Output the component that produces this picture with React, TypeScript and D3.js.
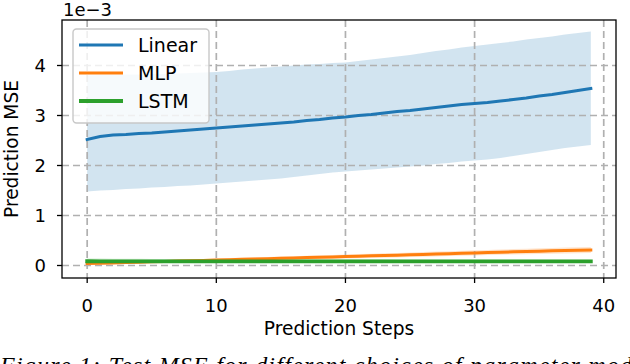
import React from "react";
import * as d3 from "d3";

const steps: number[] = Array.from({ length: 40 }, (_, i) => i);

const linearMean = [2.52, 2.58, 2.61, 2.62, 2.64, 2.65, 2.67, 2.69, 2.71, 2.73, 2.75, 2.77, 2.79, 2.81, 2.83, 2.85, 2.87, 2.9, 2.92, 2.95, 2.97, 3.0, 3.02, 3.05, 3.08, 3.1, 3.13, 3.16, 3.19, 3.22, 3.24, 3.26, 3.29, 3.32, 3.35, 3.39, 3.42, 3.46, 3.5, 3.54];
const linearUpper = [3.8, 3.81, 3.81, 3.82, 3.82, 3.83, 3.83, 3.84, 3.85, 3.86, 3.87, 3.89, 3.92, 3.94, 3.96, 3.98, 4.0, 4.02, 4.03, 4.05, 4.06, 4.09, 4.12, 4.15, 4.18, 4.21, 4.25, 4.29, 4.32, 4.36, 4.39, 4.42, 4.45, 4.48, 4.52, 4.55, 4.58, 4.62, 4.65, 4.68];
const linearLower = [1.48, 1.5, 1.51, 1.53, 1.54, 1.56, 1.57, 1.59, 1.6, 1.62, 1.64, 1.66, 1.68, 1.7, 1.72, 1.74, 1.77, 1.8, 1.83, 1.86, 1.88, 1.9, 1.92, 1.94, 1.96, 1.98, 2.0, 2.03, 2.05, 2.08, 2.1, 2.12, 2.15, 2.19, 2.23, 2.27, 2.31, 2.35, 2.38, 2.41];

const mlpMean = [0.04, 0.045, 0.05, 0.06, 0.067, 0.075, 0.08, 0.09, 0.095, 0.10, 0.11, 0.117, 0.123, 0.13, 0.137, 0.145, 0.15, 0.158, 0.165, 0.172, 0.18, 0.187, 0.194, 0.2, 0.207, 0.215, 0.222, 0.23, 0.237, 0.245, 0.252, 0.26, 0.267, 0.274, 0.28, 0.287, 0.294, 0.3, 0.305, 0.31];
const mlpUpper = [0.06, 0.066, 0.072, 0.083, 0.091, 0.1, 0.106, 0.117, 0.123, 0.13, 0.141, 0.149, 0.156, 0.164, 0.172, 0.181, 0.187, 0.196, 0.204, 0.212, 0.221, 0.229, 0.237, 0.244, 0.252, 0.261, 0.269, 0.278, 0.286, 0.295, 0.303, 0.312, 0.32, 0.328, 0.335, 0.343, 0.351, 0.358, 0.364, 0.37];
const mlpLower = [0.02, 0.024, 0.028, 0.037, 0.043, 0.05, 0.054, 0.063, 0.067, 0.07, 0.079, 0.085, 0.09, 0.096, 0.102, 0.109, 0.113, 0.12, 0.126, 0.132, 0.139, 0.145, 0.151, 0.156, 0.162, 0.169, 0.175, 0.182, 0.188, 0.195, 0.201, 0.208, 0.214, 0.22, 0.225, 0.231, 0.237, 0.242, 0.246, 0.25];

const lstmMean = [0.085, 0.084, 0.084, 0.083, 0.083, 0.083, 0.083, 0.083, 0.083, 0.083, 0.083, 0.083, 0.083, 0.083, 0.083, 0.083, 0.083, 0.083, 0.083, 0.083, 0.083, 0.083, 0.083, 0.083, 0.083, 0.083, 0.083, 0.083, 0.083, 0.083, 0.083, 0.083, 0.083, 0.083, 0.083, 0.083, 0.083, 0.084, 0.084, 0.084];
const lstmUpper = [0.14, 0.138, 0.136, 0.134, 0.133, 0.132, 0.131, 0.13, 0.129, 0.128, 0.127, 0.126, 0.125, 0.124, 0.123, 0.122, 0.121, 0.12, 0.12, 0.119, 0.119, 0.118, 0.118, 0.118, 0.117, 0.117, 0.117, 0.116, 0.116, 0.116, 0.116, 0.116, 0.116, 0.116, 0.116, 0.116, 0.116, 0.116, 0.116, 0.116];
const lstmLower = [0.06, 0.06, 0.061, 0.061, 0.062, 0.062, 0.062, 0.063, 0.063, 0.063, 0.063, 0.064, 0.064, 0.064, 0.064, 0.064, 0.065, 0.065, 0.065, 0.065, 0.065, 0.065, 0.065, 0.065, 0.065, 0.065, 0.065, 0.065, 0.065, 0.065, 0.065, 0.065, 0.065, 0.065, 0.065, 0.065, 0.065, 0.066, 0.066, 0.066];

const xTicks = [0, 10, 20, 30, 40];
const yTicks = [0, 1, 2, 3, 4];
const seriesNames = ["Linear", "MLP", "LSTM"];
const seriesColors = ["#1f77b4", "#ff7f0e", "#2ca02c"];
const seriesWidths = [3, 3, 3.8];

const FONT = "DejaVu Sans, sans-serif";

export default function App() {
  const left = 62, right = 616, top = 20, bottom = 278;
  const x = d3.scaleLinear().domain([-1.95, 40.95]).range([left, right]);
  const y = d3.scaleLinear().domain([-0.25, 4.91]).range([bottom, top]);

  const means = [linearMean, mlpMean, lstmMean];
  const uppers = [linearUpper, mlpUpper, lstmUpper];
  const lowers = [linearLower, mlpLower, lstmLower];

  const line = (vals: number[]) =>
    d3.line<number>().x((_, i) => x(steps[i])).y((v) => y(v))(vals) || "";
  const area = (lo: number[], hi: number[]) =>
    d3
      .area<number>()
      .x((_, i) => x(steps[i]))
      .y0((_, i) => y(lo[i]))
      .y1((_, i) => y(hi[i]))(steps) || "";

  const grid = "#b0b0b0";

  return (
    <svg width={630} height={364} style={{ position: "absolute", left: 0, top: 0, background: "#fff" }}>
      <rect x={0} y={0} width={630} height={364} fill="#fff" />
      {seriesNames.map((n, k) => (
        <path key={"a" + n} d={area(lowers[k], uppers[k])} fill={seriesColors[k]} fillOpacity={0.2} stroke="none" />
      ))}
      {xTicks.map((t) => (
        <line key={"gx" + t} x1={x(t)} x2={x(t)} y1={top} y2={bottom} stroke={grid} strokeWidth={1.7} strokeDasharray="7,4" />
      ))}
      {yTicks.map((t) => (
        <line key={"gy" + t} x1={left} x2={right} y1={y(t)} y2={y(t)} stroke={grid} strokeWidth={1.7} strokeDasharray="7,4" />
      ))}
      {seriesNames.map((n, k) => (
        <path key={"l" + n} d={line(means[k])} fill="none" stroke={seriesColors[k]} strokeWidth={seriesWidths[k]} strokeLinecap="square" />
      ))}
      <rect x={left} y={top} width={right - left} height={bottom - top} fill="none" stroke="#000" strokeWidth={1.3} />
      {xTicks.map((t) => (
        <g key={"tx" + t}>
          <line x1={x(t)} x2={x(t)} y1={bottom} y2={bottom + 5} stroke="#000" strokeWidth={1.3} />
          <text x={x(t)} y={311.5} textAnchor="middle" fontFamily={FONT} fontSize={18} fill="#000">{t}</text>
        </g>
      ))}
      {yTicks.map((t) => (
        <g key={"ty" + t}>
          <line x1={left - 5} x2={left} y1={y(t)} y2={y(t)} stroke="#000" strokeWidth={1.3} />
          <text x={46} y={y(t) + 6.5} textAnchor="end" fontFamily={FONT} fontSize={18} fill="#000">{t}</text>
        </g>
      ))}
      <text x={63} y={16} fontFamily={FONT} fontSize={18} fill="#000">1e−3</text>
      <text x={(left + right) / 2} y={335} textAnchor="middle" fontFamily={FONT} fontSize={18.6} fill="#000">Prediction Steps</text>
      <text transform={`translate(18,${(top + bottom) / 2}) rotate(-90)`} textAnchor="middle" fontFamily={FONT} fontSize={18.6} fill="#000">Prediction MSE</text>
      <rect x={73} y={29} width={136} height={94} rx={3.5} fill="#fff" fillOpacity={0.8} stroke="#c8c8c8" strokeWidth={1.4} />
      {seriesNames.map((n, k) => (
        <g key={"lg" + n}>
          <line x1={79} x2={123} y1={45 + k * 28} y2={45 + k * 28} stroke={seriesColors[k]} strokeWidth={seriesWidths[k]} />
          <text x={138} y={51.8 + k * 28} fontFamily={FONT} fontSize={19} fill="#000">{n}</text>
        </g>
      ))}
      <text x={0} y={373} fontFamily="Liberation Serif, serif" fontStyle="italic" fontSize={24} fill="#000" textLength={632} lengthAdjust="spacing">Figure 1: Test MSE for different choices of parameter mod</text>
    </svg>
  );
}
